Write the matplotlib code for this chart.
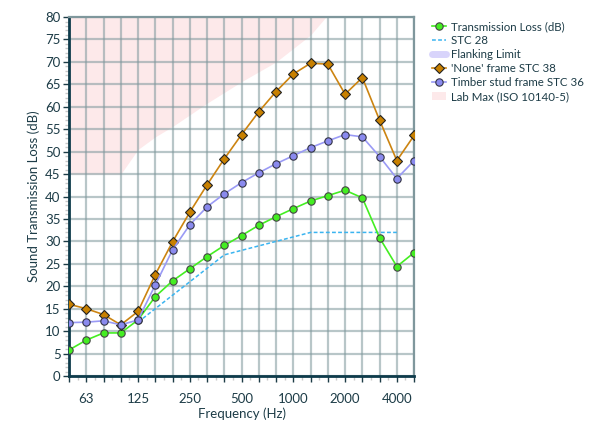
import numpy as np
import matplotlib
matplotlib.use('Agg')
import matplotlib.pyplot as plt
from matplotlib.lines import Line2D
from matplotlib.patches import Patch
from matplotlib.ticker import MultipleLocator, FixedLocator

plt.rcParams['font.family'] = ['Lato', 'DejaVu Sans']

# third-octave bands 50 Hz .. 5 kHz
bands = [50, 63, 80, 100, 125, 160, 200, 250, 315, 400, 500, 630, 800,
         1000, 1250, 1600, 2000, 2500, 3150, 4000, 5000]
labelled = [63, 125, 250, 500, 1000, 2000, 4000]

tl = [5.8, 8.0, 9.6, 9.6, 12.5, 17.7, 21.2, 23.9, 26.6, 29.1, 31.3, 33.6,
      35.5, 37.3, 39.0, 40.2, 41.4, 39.7, 30.8, 24.4, 27.5]
none_frame = [16.0, 15.0, 13.7, 11.4, 14.4, 22.6, 29.9, 36.5, 42.6, 48.4,
              53.8, 58.9, 63.4, 67.3, 69.7, 69.5, 62.8, 66.5, 57.0, 48.0, 53.6]
timber = [11.9, 12.0, 12.3, 11.4, 12.5, 20.3, 28.1, 33.7, 37.7, 40.6, 43.1,
          45.3, 47.3, 49.1, 50.9, 52.4, 53.8, 53.3, 48.9, 44.0, 48.0]

# STC 28 reference contour, 125 Hz .. 4 kHz
stc_bands = [125, 160, 200, 250, 315, 400, 500, 630, 800, 1000, 1250, 1600,
             2000, 2500, 3150, 4000]
stc28 = [12, 15, 18, 21, 24, 27, 28, 29, 30, 31, 32, 32, 32, 32, 32, 32]

# lab maximum (ISO 10140-5) lower boundary
lab_bands = [50, 63, 80, 100, 125, 160, 200, 250, 315, 400, 500, 630, 800,
             1000, 1250, 1600]
lab_max = [45, 45, 45, 45, 50.5, 53.3, 55.6, 58.2, 60.8, 63.2, 65.6, 67.8,
           70.0, 73.0, 76.0, 80.5]

idx = {b: i for i, b in enumerate(bands)}
x = np.arange(len(bands))
xs = [idx[b] for b in stc_bands]
xl = [idx[b] for b in lab_bands]

text_col = '#1d3c47'
fig = plt.figure(figsize=(5.96, 4.32), dpi=100)
ax = fig.add_axes([0.1158, 0.1296, 0.579, 0.831])

ax.fill_between(xl, lab_max, 80, color='#fde9ea', lw=0, zorder=0.2)

ax.plot(xs, stc28, color='#3ab4f0', lw=1.1, ls=(0, (2.5, 1.5)), zorder=3)
ax.plot(x, tl, color='#44ee22', lw=1.2, marker='o', ms=5.3,
        mfc='#44ee22', mec='#444444', mew=0.8, zorder=4)
ax.plot(x, none_frame, color='#cc8411', lw=1.2, marker='D', ms=5.5,
        mfc='#c88000', mec='#222222', mew=0.8, zorder=4)
ax.plot(x, timber, color='#9a9af5', lw=1.2, marker='o', ms=5.3,
        mfc='#8a8aee', mec='#333344', mew=0.8, zorder=4)

ax.set_xlim(0, 20)
ax.set_ylim(0, 80)
ax.set_axisbelow(True)

ax.xaxis.set_major_locator(FixedLocator(x))
ax.set_xticklabels([str(b) if b in labelled else '' for b in bands])
ax.xaxis.set_minor_locator(FixedLocator(x[:-1] + 0.5))
ax.yaxis.set_major_locator(MultipleLocator(5))
ax.yaxis.set_minor_locator(MultipleLocator(1))

ax.grid(which='major', color='#7f979c', alpha=0.55, lw=1.6)
ax.tick_params(which='major', length=4, width=1, color=text_col,
               labelcolor=text_col, labelsize=9.5, pad=2)
ax.tick_params(axis='x', which='major', pad=8)
ax.tick_params(which='minor', length=3, width=1, color='#c8c8c8')

for s in ('left', 'bottom'):
    ax.spines[s].set_color('#0e3b4b')
    ax.spines[s].set_linewidth(2)
for s in ('top', 'right'):
    ax.spines[s].set_color('#7f979c')
    ax.spines[s].set_linewidth(1.6)

ax.set_xlabel('Frequency (Hz)', color=text_col, fontsize=9.5, labelpad=2)
ax.set_ylabel('Sound Transmission Loss (dB)', color=text_col, fontsize=9.5,
              labelpad=4)

handles = [
    Line2D([], [], color='#44ee22', lw=1.2, marker='o', ms=5.3,
           mfc='#44ee22', mec='#444444', mew=0.8),
    Line2D([], [], color='#3ab4f0', lw=1.1, ls=(0, (2.5, 1.5))),
    Line2D([], [], color='#d8d4fb', lw=5, solid_capstyle='round'),
    Line2D([], [], color='#cc8411', lw=1.2, marker='D', ms=5.5,
           mfc='#c88000', mec='#222222', mew=0.8),
    Line2D([], [], color='#9a9af5', lw=1.2, marker='o', ms=5.3,
           mfc='#8a8aee', mec='#333344', mew=0.8),
    Patch(facecolor='#fde9ea', edgecolor='none'),
]
names = ['Transmission Loss (dB)', 'STC 28', 'Flanking Limit',
         "'None' frame STC 38", 'Timber stud frame STC 36',
         'Lab Max (ISO 10140-5)']
leg = fig.legend(handles, names, loc='upper left',
                 bbox_to_anchor=(0.707, 0.975), frameon=False, fontsize=8.3,
                 handlelength=1.2, handletextpad=0.45, labelspacing=0.26)
for t in leg.get_texts():
    t.set_color(text_col)

fig.savefig('out.png', dpi=100)
